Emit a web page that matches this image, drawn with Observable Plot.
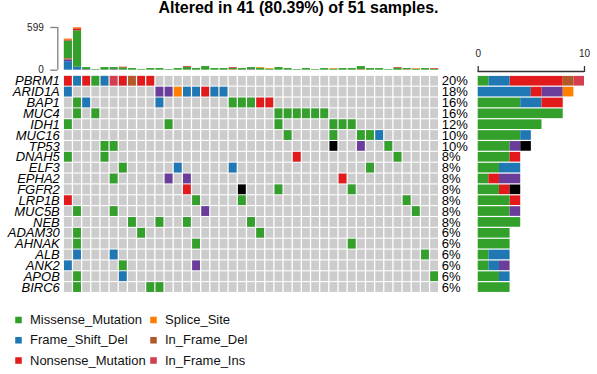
<!DOCTYPE html>
<html><head><meta charset="utf-8">
<script src="https://cdn.jsdelivr.net/npm/d3@7"></script>
<script src="https://cdn.jsdelivr.net/npm/@observablehq/plot@0.6"></script>
<style>
html,body{margin:0;padding:0;background:#fff;}
#chart{position:relative;width:597px;height:374px;overflow:hidden;font-family:"Liberation Sans",Arial,sans-serif;}
#chart svg{position:absolute;left:0;top:0;}
#title{position:absolute;left:0;top:0;width:597px;text-align:center;font-weight:bold;font-size:16px;line-height:16px;color:#000;}
</style></head><body>
<div id="chart"><div id="title"></div></div>
<script>
// ---------- data ----------
const totalSamples = 51;
const genes = ["PBRM1","ARID1A","BAP1","MUC4","IDH1","MUC16","TP53","DNAH5","ELF3","EPHA2",
  "FGFR2","LRP1B","MUC5B","NEB","ADAM30","AHNAK","ALB","ANK2","APOB","BIRC6"];
// per gene: "<sample index><class code>" of altered samples
const geneMutations = [
  "0N 1F 2N 3M 4F 5I 6N 7D 8N 9N",
  "0F 10P 11P 12S 13F 14F 15N 16F 17F",
  "1M 2F 10F 18M 19M 20M 21N 22N",
  "1M 3M 23M 24M 25M 26M 27M 28M",
  "0M 11M 23M 29M 30M 31M",
  "24M 29M 32M 33M 34F",
  "4M 5M 29X 32P 35M",
  "0M 4M 25N 36M",
  "6M 12F 18F 33M",
  "5M 11P 13P 30N",
  "13N 19X 23M 31M",
  "0N 14M 19M 37M",
  "1M 5M 15P 38M",
  "7M 10M 13M 20M",
  "1M 8M 21M",
  "1M 14M 31M",
  "1F 5F 39M",
  "0F 6M 14P",
  "1M 6F 40M",
  "1M 9M 10M"
];
const classCodes  = ["M","F","N","S","D","I","P","X"];
const classNames  = ["Missense_Mutation","Frame_Shift_Del","Nonsense_Mutation","Splice_Site",
  "In_Frame_Del","In_Frame_Ins","Frame_Shift_Ins","Multi_Hit"];
const classColors = ["#33A02C","#1F78B4","#E31A1C","#FF7F00","#B15928","#D53E4F","#6A3D9A","#000000"];
const legendClasses = ["Missense_Mutation","Frame_Shift_Del","Nonsense_Mutation","Splice_Site","In_Frame_Del","In_Frame_Ins"];
const barOrder = ["Missense_Mutation","Frame_Shift_Del","Nonsense_Mutation","Frame_Shift_Ins","Multi_Hit","In_Frame_Del","In_Frame_Ins","Splice_Site"];
const tmbOrder = ["Frame_Shift_Del","Frame_Shift_Ins","In_Frame_Del","Missense_Mutation","Nonsense_Mutation","Splice_Site"];
// per-sample variant counts (top bar), 41 altered samples
const tmbMissense      = [250,511,30,9,37,30,32,23,9,23, 23,9,23,41,23,51,23,23,20,23, 30,28,14,37,23,9,23,9,23,14, 23,23,44,23,23,9,28,16,14,23, 14];
const tmbFrameShiftDel = [120,42,0,0,0,0,0,0,0,0, 0,0,0,0,0,0,0,0,0,0, 0,0,0,0,0,0,0,0,0,0, 0,0,0,0,0,0,0,0,0,0, 0];
const tmbFrameShiftIns = [25,0,7,0,0,7,0,0,0,0, 0,0,0,0,0,0,0,0,0,0, 7,0,0,0,0,0,0,0,0,0, 0,0,0,0,0,0,0,0,0,0, 0];
const tmbInFrameDel    = [15,0,0,0,0,0,0,0,0,0, 0,0,0,0,0,0,0,0,7,0, 0,0,0,0,0,0,0,0,0,0, 0,0,7,0,0,0,0,7,0,0, 0];
const tmbNonsense      = [15,28,0,0,0,0,10,0,0,0, 0,0,0,10,0,0,0,0,10,0, 0,0,0,0,0,0,0,0,0,0, 0,0,0,0,0,0,9,0,0,0, 9];
const tmbSplice        = [12,14,0,0,0,0,0,0,0,0, 0,0,0,0,0,0,0,0,0,0, 0,9,9,0,0,0,0,0,0,9, 0,0,0,0,0,0,0,0,9,0, 0];
const tmbTicks = [0, 599];
const barTicks = [0, 10];

// ---------- derived tables ----------
const codeToClass = new Map(classCodes.map((c, i) => [c, classNames[i]]));
const cells = geneMutations.flatMap((s, row) => s.split(" ").map(t => ({
  row, sample: +t.slice(0, -1), cls: codeToClass.get(t.slice(-1))
})));
const nSamples = new Set(cells.map(c => c.sample)).size;
const samples = d3.range(nSamples);
const background = d3.cross(d3.range(genes.length), samples, (row, sample) => ({row, sample}));
const geneCounts = genes.map((g, row) => new Set(cells.filter(c => c.row === row).map(c => c.sample)).size);
const classCounts = d3.flatRollup(cells, v => v.length, d => d.row, d => d.cls).map(([row, cls, n]) => ({row, cls, n}));
const tmbSeries = [["Missense_Mutation", tmbMissense], ["Frame_Shift_Del", tmbFrameShiftDel],
  ["Frame_Shift_Ins", tmbFrameShiftIns], ["In_Frame_Del", tmbInFrameDel],
  ["Nonsense_Mutation", tmbNonsense], ["Splice_Site", tmbSplice]];
const tmbRows = tmbSeries.flatMap(([cls, vals]) => vals.map((n, i) => ({i, cls, n})).filter(d => d.n > 0));

document.getElementById("title").textContent =
  `Altered in ${nSamples} (${(nSamples / totalSamples * 100).toFixed(2)}%) of ${totalSamples} samples.`;

// ---------- layout ----------
const W = 597, H = 374;
const gridL = 63.3, gridR = 438.7, gridT = 75.3, gridB = 292.5;
const color = {domain: classNames, range: classColors};
const style = "background:transparent;overflow:visible;font-family:'Liberation Sans',Arial,sans-serif;color:#000;";
const chart = document.getElementById("chart");

// top bar (variants per sample)
chart.appendChild(Plot.plot({
  width: W, height: H, marginLeft: gridL, marginRight: W - gridR, marginTop: 27, marginBottom: H - 69.7,
  x: {domain: [0, nSamples], axis: null},
  y: {domain: [0, tmbTicks[1]]},
  color, style,
  marks: [
    Plot.rectY(tmbRows, {x1: "i", x2: d => d.i + 1, y: "n", fill: "cls", order: tmbOrder, insetLeft: 0.5, insetRight: 0.5}),
    Plot.ruleX([0], {y1: tmbTicks[0], y2: tmbTicks[1], dx: -6, stroke: "#7f7f7f", strokeWidth: 1.3}),
    Plot.axisY({ticks: tmbTicks, tickSize: 7, tickPadding: 7, dx: -6, stroke: "#7f7f7f", strokeWidth: 1.3, fill: "#222", fontSize: 10, label: null})
  ]
}));

// oncoprint grid
chart.appendChild(Plot.plot({
  width: W, height: H, marginLeft: gridL, marginRight: W - gridR, marginTop: gridT, marginBottom: H - gridB,
  x: {domain: [0, nSamples], axis: null},
  y: {domain: [0, genes.length], reverse: true, axis: null},
  color, style,
  marks: [
    Plot.rect(background, {x1: "sample", x2: d => d.sample + 1, y1: "row", y2: d => d.row + 1, fill: "#CCCCCC",
      insetLeft: 0.65, insetRight: 0.65, insetTop: 0.55, insetBottom: 0.55}),
    Plot.rect(cells, {x1: "sample", x2: d => d.sample + 1, y1: "row", y2: d => d.row + 1, fill: "cls",
      insetLeft: 0.65, insetRight: 0.65, insetTop: 0.55, insetBottom: 0.55}),
    Plot.text(genes, {x: 0, y: (d, i) => i + 0.5, text: d => d, textAnchor: "end", dx: -4, fontStyle: "italic", fontSize: 13, fill: "#000"}),
    Plot.text(genes, {x: nSamples, y: (d, i) => i + 0.5, text: (d, i) => Math.round(geneCounts[i] / totalSamples * 100) + "%",
      textAnchor: "start", dx: 2.5, fontSize: 13, fill: "#000"})
  ]
}));

// right bar (variant classes per gene)
chart.appendChild(Plot.plot({
  width: W, height: H, marginLeft: 477.7, marginRight: W - 584, marginTop: gridT, marginBottom: H - gridB,
  x: {domain: barTicks},
  y: {domain: [0, genes.length], reverse: true, axis: null},
  color, style,
  marks: [
    Plot.rectX(classCounts, {x: "n", y1: "row", y2: d => d.row + 1, fill: "cls", order: barOrder, insetTop: 0.6, insetBottom: 0.6}),
    Plot.ruleY([0], {x1: barTicks[0], x2: barTicks[1], dy: -4.3, stroke: "#333", strokeWidth: 1.3}),
    Plot.axisX({anchor: "top", ticks: barTicks, tickSize: 6, tickPadding: 9, dy: -4.3, stroke: "#333", strokeWidth: 1.3, fill: "#222", fontSize: 10, label: null})
  ]
}));

// legend
chart.appendChild(Plot.plot({
  width: W, height: H, marginLeft: 18, marginRight: W - 153, marginTop: 319.5, marginBottom: H - 360,
  x: {domain: [0, 1], axis: null},
  y: {domain: [0, 2], reverse: true, axis: null},
  color, style,
  marks: [
    Plot.dot(legendClasses, {x: (d, i) => Math.floor(i / 3), y: (d, i) => i % 3, fill: d => d, symbol: "square", r: 3.7}),
    Plot.text(legendClasses, {x: (d, i) => Math.floor(i / 3), y: (d, i) => i % 3, text: d => d, textAnchor: "start", dx: 11.5, fontSize: 13, fill: "#111"})
  ]
}));
</script>
</body></html>
